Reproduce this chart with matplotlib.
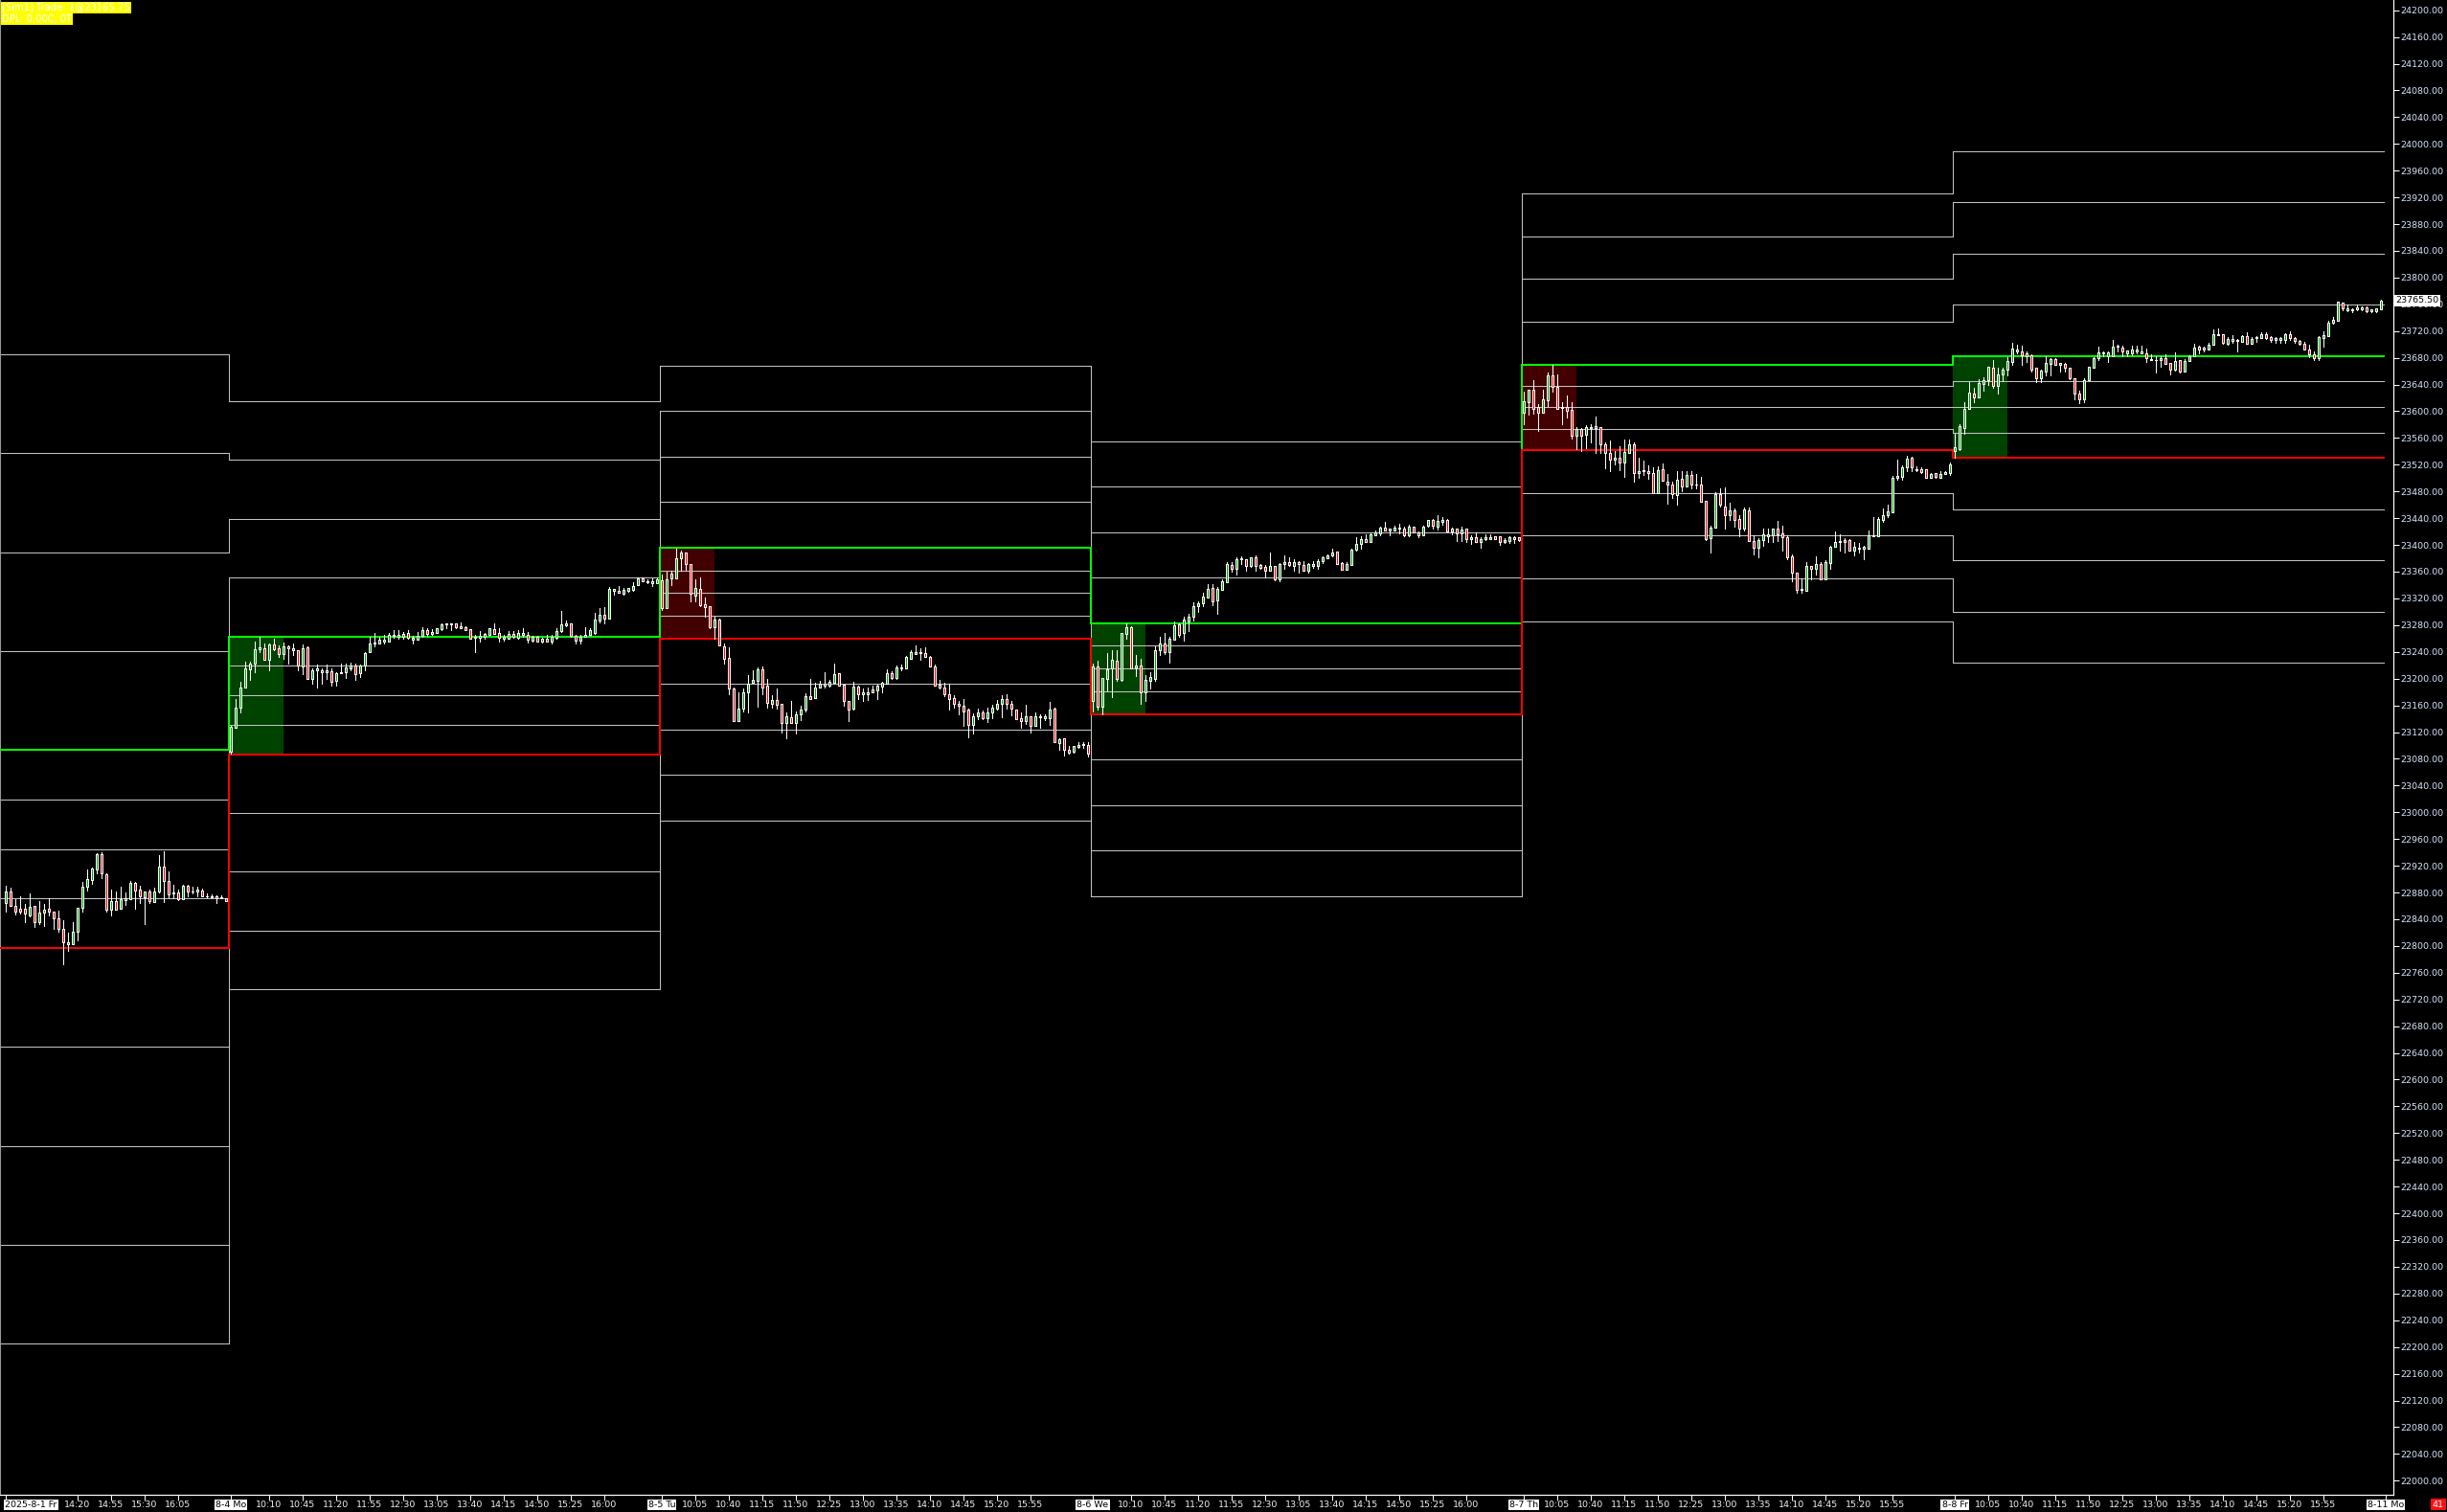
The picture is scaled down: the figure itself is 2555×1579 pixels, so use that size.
import matplotlib
matplotlib.use('Agg')
import matplotlib.pyplot as plt
from matplotlib.patches import Rectangle
from matplotlib.collections import LineCollection, PatchCollection
import matplotlib.transforms as mtransforms
import numpy as np

# ---------------- data ----------------
day_labels = ["2025-8-1 Fr", "8-4 Mo", "8-5 Tu", "8-6 We", "8-7 Th", "8-8 Fr", "8-11 Mo"]
day_start_bars = [0, 47, 137, 227, 317, 407, 497]

# candles [open, high, low, close] per session
ohlc_0801 = [
[22865,22890,22852,22882],[22882,22887,22860,22860],[22860,22870,22847,22852],[22856,22874,22849,22852],
[22855,22863,22835,22848],[22846,22879,22844,22858],[22860,22860,22829,22835],[22836,22867,22833,22850],
[22850,22863,22830,22854],[22855,22871,22846,22851],[22851,22851,22825,22842],[22841,22853,22822,22825],
[22826,22839,22773,22805],[22802,22820,22792,22805],[22802,22836,22802,22822],[22822,22857,22808,22857],
[22857,22896,22852,22888],[22888,22915,22883,22900],[22898,22917,22893,22916],[22915,22939,22909,22937],
[22937,22940,22901,22908],[22907,22909,22852,22854],[22854,22884,22846,22867],[22867,22882,22854,22854],
[22855,22888,22855,22870],[22869,22880,22861,22871],[22870,22897,22870,22894],[22894,22896,22856,22883],
[22884,22890,22865,22874],[22873,22882,22833,22882],[22882,22884,22865,22867],[22866,22887,22866,22882],
[22882,22936,22880,22919],[22919,22942,22866,22897],[22897,22912,22873,22877],[22880,22891,22872,22878],
[22880,22884,22869,22870],[22870,22891,22870,22890],[22890,22891,22875,22881],[22881,22888,22879,22882],
[22881,22888,22875,22884],[22883,22886,22874,22875],[22875,22878,22873,22874],[22875,22877,22873,22873],
[22874,22876,22865,22872],[22873,22876,22871,22872],[22871,22871,22867,22867]]

ohlc_0804 = [
[23091,23130,23088,23128],[23127,23170,23126,23156],[23156,23195,23149,23186],[23187,23225,23187,23215],
[23214,23225,23198,23223],[23223,23255,23210,23244],[23244,23263,23239,23247],[23246,23253,23228,23228],
[23228,23252,23213,23251],[23251,23259,23243,23244],[23245,23250,23232,23237],[23237,23254,23229,23248],
[23248,23250,23222,23245],[23246,23252,23236,23242],[23243,23243,23213,23219],[23218,23251,23206,23246],
[23247,23248,23199,23200],[23200,23215,23193,23212],[23212,23221,23186,23215],[23213,23215,23193,23210],
[23210,23221,23199,23212],[23211,23215,23189,23195],[23197,23210,23190,23208],[23208,23222,23208,23210],
[23209,23222,23201,23217],[23216,23224,23212,23219],[23219,23223,23198,23207],[23208,23221,23202,23219],
[23219,23240,23213,23238],[23239,23262,23239,23252],[23252,23268,23248,23254],[23253,23262,23252,23258],
[23255,23265,23253,23258],[23256,23268,23256,23265],[23264,23272,23261,23266],[23265,23273,23260,23262],
[23262,23270,23260,23267],[23268,23272,23260,23261],[23258,23264,23252,23261],[23258,23270,23258,23264],
[23264,23277,23263,23273],[23273,23276,23264,23267],[23267,23274,23265,23270],[23269,23276,23268,23275],
[23274,23283,23272,23281],[23281,23283,23275,23282],[23281,23283,23272,23283],[23282,23283,23276,23277],
[23276,23284,23275,23278],[23277,23279,23272,23273],[23274,23274,23259,23259],[23261,23266,23240,23263],
[23261,23271,23255,23264],[23262,23268,23260,23267],[23266,23276,23265,23275],[23274,23283,23267,23267],
[23268,23276,23256,23261],[23260,23265,23257,23262],[23260,23271,23260,23267],[23267,23271,23261,23263],
[23261,23273,23260,23268],[23266,23275,23262,23268],[23266,23270,23254,23258],[23257,23264,23255,23263],
[23262,23264,23255,23255],[23256,23261,23254,23260],[23260,23266,23256,23256],[23255,23266,23253,23262],
[23261,23275,23260,23271],[23271,23301,23270,23281],[23280,23287,23279,23283],[23283,23283,23263,23264],
[23264,23266,23252,23257],[23257,23266,23252,23263],[23262,23277,23262,23266],[23266,23275,23265,23272],
[23269,23298,23267,23288],[23287,23306,23284,23296],[23295,23307,23283,23290],[23290,23337,23290,23334],
[23332,23334,23326,23334],[23332,23339,23328,23328],[23327,23335,23325,23333],[23331,23336,23330,23335],
[23333,23344,23332,23339],[23340,23352,23340,23350],[23350,23351,23345,23345],[23344,23348,23343,23346],
[23343,23350,23338,23346],[23343,23352,23343,23349]]

ohlc_0805 = [
[23347,23356,23302,23306],[23306,23360,23306,23348],[23350,23361,23340,23357],[23350,23395,23350,23380],
[23380,23391,23361,23389],[23388,23388,23363,23372],[23372,23372,23315,23327],[23324,23349,23315,23335],
[23334,23351,23309,23310],[23311,23322,23292,23307],[23308,23308,23276,23277],[23277,23292,23260,23288],
[23288,23290,23249,23249],[23248,23253,23223,23230],[23231,23247,23176,23185],[23185,23186,23137,23137],
[23137,23179,23137,23155],[23155,23185,23151,23180],[23179,23205,23150,23193],[23194,23212,23194,23198],
[23197,23217,23158,23214],[23214,23218,23176,23187],[23190,23200,23156,23164],[23162,23175,23156,23168],
[23168,23185,23155,23161],[23162,23162,23120,23133],[23133,23149,23111,23143],[23142,23167,23134,23134],
[23134,23151,23118,23147],[23146,23160,23138,23153],[23153,23178,23151,23174],[23174,23200,23170,23170],
[23171,23194,23171,23186],[23187,23197,23186,23193],[23193,23209,23187,23189],[23189,23198,23188,23195],
[23194,23223,23194,23207],[23208,23208,23189,23190],[23191,23191,23159,23167],[23166,23166,23136,23154],
[23155,23195,23153,23188],[23188,23190,23170,23177],[23176,23185,23166,23179],[23176,23186,23168,23180],
[23184,23190,23179,23180],[23183,23191,23169,23189],[23188,23195,23180,23194],[23192,23214,23192,23208],
[23208,23211,23200,23201],[23201,23220,23200,23217],[23215,23221,23212,23217],[23215,23234,23215,23232],
[23230,23242,23230,23239],[23237,23250,23237,23239],[23240,23246,23228,23238],[23238,23247,23233,23233],
[23233,23234,23218,23218],[23218,23221,23190,23190],[23191,23198,23185,23186],[23186,23194,23174,23176],
[23177,23193,23153,23170],[23171,23175,23156,23163],[23163,23167,23146,23160],[23160,23170,23130,23151],
[23153,23155,23112,23131],[23131,23148,23118,23144],[23144,23155,23139,23149],[23150,23152,23139,23141],
[23141,23156,23135,23150],[23150,23161,23141,23157],[23155,23168,23154,23162],[23162,23175,23142,23169],
[23169,23177,23155,23162],[23163,23167,23145,23155],[23154,23154,23140,23140],[23141,23150,23127,23136],
[23136,23161,23132,23144],[23144,23144,23119,23130],[23130,23150,23129,23144],[23142,23146,23126,23144],
[23141,23147,23138,23144],[23141,23165,23131,23154],[23155,23156,23105,23105],[23104,23110,23094,23109],
[23110,23110,23085,23093],[23093,23099,23088,23089],[23090,23099,23089,23099],[23098,23105,23096,23101],
[23100,23105,23096,23102],[23100,23105,23083,23088]]

ohlc_0806 = [
[23166,23222,23151,23218],[23218,23227,23153,23158],[23158,23201,23147,23201],[23200,23238,23182,23214],
[23215,23243,23173,23228],[23227,23243,23196,23199],[23198,23268,23196,23268],[23267,23283,23260,23277],
[23277,23278,23216,23216],[23217,23235,23204,23220],[23220,23229,23162,23179],[23179,23205,23166,23198],
[23197,23210,23185,23202],[23200,23248,23196,23243],[23242,23262,23235,23253],[23253,23268,23237,23240],
[23240,23262,23224,23259],[23258,23286,23258,23280],[23281,23283,23263,23266],[23268,23293,23257,23288],
[23286,23297,23271,23293],[23292,23314,23287,23308],[23309,23315,23300,23313],[23313,23329,23309,23323],
[23322,23342,23322,23334],[23335,23342,23310,23316],[23317,23337,23297,23334],[23333,23349,23333,23345],
[23344,23375,23344,23371],[23370,23375,23360,23365],[23365,23382,23356,23378],[23378,23383,23372,23380],
[23378,23378,23361,23368],[23368,23382,23367,23381],[23381,23384,23361,23369],[23370,23371,23364,23366],
[23367,23370,23352,23361],[23361,23389,23361,23368],[23369,23369,23347,23349],[23349,23373,23345,23371],
[23371,23384,23365,23374],[23374,23382,23368,23370],[23368,23378,23361,23374],[23374,23376,23358,23371],
[23370,23376,23361,23362],[23362,23373,23358,23371],[23368,23376,23366,23371],[23368,23378,23364,23376],
[23376,23383,23373,23381],[23380,23386,23380,23385],[23384,23394,23383,23389],[23390,23390,23371,23372],
[23373,23375,23363,23363],[23363,23374,23363,23371],[23370,23395,23370,23393],[23393,23412,23392,23402],
[23401,23413,23395,23409],[23409,23416,23405,23405],[23405,23417,23405,23416],[23415,23421,23414,23419],
[23418,23428,23414,23426],[23426,23435,23422,23422],[23421,23425,23414,23424],[23422,23429,23421,23426],
[23424,23431,23418,23426],[23425,23427,23413,23414],[23414,23430,23413,23427],[23427,23428,23419,23419],
[23419,23420,23411,23415],[23415,23429,23415,23428],[23429,23438,23427,23437],[23438,23439,23425,23429],
[23428,23444,23423,23436],[23435,23441,23430,23438],[23438,23439,23420,23420],[23420,23426,23416,23425],
[23424,23425,23406,23418],[23418,23427,23406,23423],[23424,23425,23405,23408],[23408,23414,23402,23412],
[23411,23419,23404,23404],[23404,23412,23396,23409],[23408,23416,23407,23411],[23409,23416,23408,23412],
[23413,23413,23408,23409],[23413,23413,23400,23404],[23404,23410,23403,23407],[23406,23413,23403,23411],
[23408,23413,23403,23411],[23411,23412,23406,23407]]

ohlc_0807 = [
[23598,23630,23581,23615],[23613,23632,23595,23632],[23632,23647,23596,23604],[23606,23610,23570,23598],
[23598,23632,23598,23618],[23616,23658,23608,23653],[23653,23669,23629,23637],[23637,23655,23603,23604],
[23605,23614,23580,23607],[23606,23624,23590,23600],[23602,23614,23559,23563],[23563,23576,23543,23573],
[23573,23575,23541,23564],[23565,23579,23545,23576],[23575,23581,23554,23577],[23578,23592,23537,23575],
[23576,23577,23537,23550],[23550,23554,23515,23537],[23537,23556,23511,23527],[23527,23540,23521,23531],
[23530,23548,23512,23523],[23523,23557,23502,23539],[23537,23557,23537,23550],[23550,23553,23495,23507],
[23508,23531,23500,23511],[23511,23526,23505,23512],[23511,23519,23499,23507],[23507,23516,23478,23478],
[23478,23517,23478,23512],[23513,23522,23496,23496],[23495,23506,23461,23490],[23490,23494,23471,23476],
[23474,23511,23460,23497],[23499,23511,23480,23487],[23487,23511,23487,23505],[23505,23511,23485,23491],
[23490,23506,23484,23491],[23491,23502,23464,23465],[23466,23466,23407,23409],[23410,23429,23389,23426],
[23426,23479,23426,23476],[23476,23485,23457,23460],[23458,23486,23425,23444],[23444,23463,23437,23451],
[23452,23454,23427,23438],[23439,23444,23413,23424],[23424,23456,23422,23453],[23452,23456,23406,23406],
[23406,23415,23386,23396],[23396,23410,23381,23407],[23407,23425,23399,23416],[23413,23425,23404,23416],
[23414,23425,23404,23424],[23424,23436,23406,23416],[23417,23429,23392,23412],[23412,23415,23379,23382],
[23383,23386,23345,23358],[23358,23358,23329,23333],[23333,23350,23328,23334],[23332,23374,23331,23368],
[23369,23369,23349,23365],[23364,23383,23356,23371],[23371,23375,23348,23348],[23348,23377,23348,23374],
[23373,23399,23365,23397],[23397,23420,23397,23404],[23404,23416,23392,23406],[23407,23410,23389,23405],
[23407,23408,23392,23392],[23392,23405,23384,23397],[23395,23403,23388,23396],[23395,23398,23379,23397],
[23394,23422,23394,23414],[23413,23442,23413,23414],[23413,23442,23413,23439],[23437,23454,23435,23444],
[23445,23460,23441,23450],[23449,23503,23449,23500],[23500,23527,23498,23503],[23502,23519,23498,23516],
[23516,23533,23511,23529],[23530,23532,23511,23516],[23512,23518,23510,23514],[23514,23516,23508,23509],
[23513,23513,23500,23500],[23501,23508,23501,23506],[23508,23508,23501,23502],[23501,23511,23501,23506],
[23506,23510,23506,23509],[23507,23524,23505,23520]]

ohlc_0808 = [
[23540,23567,23530,23546],[23543,23580,23542,23578],[23575,23614,23567,23603],[23603,23644,23603,23628],
[23626,23635,23613,23621],[23621,23648,23621,23642],[23641,23651,23631,23647],[23647,23666,23639,23666],
[23665,23677,23635,23638],[23638,23665,23626,23655],[23655,23665,23645,23662],[23662,23681,23654,23675],
[23674,23702,23670,23694],[23690,23699,23687,23692],[23690,23698,23670,23684],[23686,23690,23674,23683],
[23684,23685,23659,23663],[23665,23665,23644,23650],[23649,23662,23644,23661],[23660,23683,23654,23673],
[23671,23679,23654,23678],[23678,23679,23669,23669],[23669,23673,23660,23672],[23671,23673,23659,23665],
[23665,23665,23648,23650],[23649,23650,23618,23627],[23627,23631,23612,23618],[23618,23650,23613,23647],
[23646,23667,23646,23666],[23665,23681,23665,23679],[23679,23696,23677,23688],[23686,23690,23683,23688],
[23683,23690,23674,23688],[23683,23707,23683,23697],[23696,23700,23690,23698],[23695,23698,23683,23690],
[23687,23691,23683,23691],[23687,23698,23684,23692],[23690,23698,23686,23692],[23690,23698,23686,23686],
[23686,23694,23674,23679],[23677,23685,23676,23678],[23676,23683,23658,23677],[23676,23683,23666,23679],
[23679,23685,23671,23671],[23672,23672,23655,23663],[23663,23688,23661,23675],[23676,23677,23658,23659],
[23660,23678,23659,23675],[23675,23684,23675,23682],[23682,23701,23682,23695],[23696,23698,23686,23692],
[23692,23697,23689,23695],[23693,23702,23692,23700],[23699,23722,23699,23715],[23714,23724,23714,23715],
[23715,23715,23701,23703],[23701,23711,23700,23708],[23708,23714,23702,23705],[23705,23708,23690,23706],
[23704,23714,23704,23713],[23713,23718,23701,23701],[23701,23711,23701,23708],[23709,23713,23704,23711],
[23709,23718,23709,23716],[23716,23718,23708,23709],[23711,23712,23704,23706],[23707,23711,23703,23709],
[23707,23711,23703,23709],[23707,23717,23703,23716],[23716,23720,23707,23709],[23710,23711,23703,23705],
[23705,23707,23699,23701],[23701,23704,23692,23693],[23693,23700,23681,23685],[23685,23689,23677,23680],
[23680,23712,23677,23711],[23710,23720,23697,23714],[23713,23735,23713,23732],[23732,23741,23731,23737],
[23736,23764,23736,23764],[23762,23763,23751,23754],[23751,23759,23750,23754],[23751,23754,23748,23753],
[23752,23759,23751,23755],[23753,23757,23751,23755],[23755,23757,23748,23749],[23749,23753,23748,23752],
[23749,23754,23748,23754],[23752,23767,23752,23765.5]]

sessions = [ohlc_0801, ohlc_0804, ohlc_0805, ohlc_0806, ohlc_0807, ohlc_0808]

# opening-range levels per session, top to bottom (index 4 = OR high, index 8 = OR low)
levels_0801 = [23685, 23537, 23389, 23241, 23093, 23019, 22945, 22871, 22797, 22649, 22501, 22353, 22205]
levels_0804 = [23615, 23527, 23439, 23351, 23263, 23219, 23175, 23131, 23087, 22999, 22911, 22823, 22735]
levels_0805 = [23668, 23600, 23532, 23464, 23396, 23362, 23328, 23294, 23260, 23192, 23124, 23056, 22988]
levels_0806 = [23555, 23487, 23419, 23351, 23283, 23249, 23215, 23181, 23147, 23079, 23011, 22943, 22875]
levels_0807 = [23926, 23862, 23798, 23734, 23670, 23638, 23606, 23574, 23542, 23478, 23414, 23350, 23286]
levels_0808 = [23989, 23912.5, 23836, 23759.5, 23683, 23645, 23606.5, 23568, 23530, 23453.5, 23377, 23300.5, 23224]
session_levels = [levels_0801, levels_0804, levels_0805, levels_0806, levels_0807, levels_0808]

# opening range box direction (sessions 8-4 .. 8-8)
or_box_up = [True, False, True, False, True]

time_tick_bars = [15, 22, 29, 36,
                  55, 62, 69, 76, 83, 90, 97, 104, 111, 118, 125,
                  144, 151, 158, 165, 172, 179, 186, 193, 200, 207, 214,
                  235, 242, 249, 256, 263, 270, 277, 284, 291, 298, 305,
                  324, 331, 338, 345, 352, 359, 366, 373, 380, 387, 394,
                  414, 421, 428, 435, 442, 449, 456, 463, 470, 477, 484]
time_tick_labels = ["14:20", "14:55", "15:30", "16:05",
                    "10:10", "10:45", "11:20", "11:55", "12:30", "13:05", "13:40", "14:15", "14:50", "15:25", "16:00",
                    "10:05", "10:40", "11:15", "11:50", "12:25", "13:00", "13:35", "14:10", "14:45", "15:20", "15:55",
                    "10:10", "10:45", "11:20", "11:55", "12:30", "13:05", "13:40", "14:15", "14:50", "15:25", "16:00",
                    "10:05", "10:40", "11:15", "11:50", "12:25", "13:00", "13:35", "14:10", "14:45", "15:20", "15:55",
                    "10:05", "10:40", "11:15", "11:50", "12:25", "13:00", "13:35", "14:10", "14:45", "15:20", "15:55"]

price_ticks = list(range(22000, 24201, 40))
last_price = 23765.50
header_lines = ["[Sim1] Trade: 1@23165.75", "DPL: 0.00C, 0T"]

# ---------------- figure ----------------
W, H, DPI = 2555, 1579, 100
fig = plt.figure(figsize=(W / DPI, H / DPI), dpi=DPI, facecolor='black')
ax_left_px, ax_right_px, ax_top_px, ax_bot_px = 0, 2499, 0, 1561
ax = fig.add_axes([ax_left_px / W, (H - ax_bot_px) / H,
                   (ax_right_px - ax_left_px) / W, (ax_bot_px - ax_top_px) / H])
ax.set_facecolor('black')
ax.set_xlim(-1.2, 498.6)
ax.set_ylim(21978.9, 24215.3)

PX = 72.0 / DPI  # one pixel in points

# ---- opening range boxes ----
for d in range(1, 6):
    lv = session_levels[d]
    hi, lo = lv[4], lv[8]
    s = day_start_bars[d]
    col = '#004200' if or_box_up[d - 1] else '#420000'
    ax.add_patch(Rectangle((s - 0.4, lo), 11.4, hi - lo, facecolor=col,
                           edgecolor='none', zorder=1))

# ---- level step lines ----
bounds = [-3] + [s - 0.45 for s in day_start_bars[1:6]] + [496.6]
for k in range(13):
    xs, ys = [], []
    for d in range(6):
        xs += [bounds[d], bounds[d + 1]]
        ys += [session_levels[d][k], session_levels[d][k]]
    if k == 4:
        col, lw = '#00ff00', 2 * PX
    elif k == 8:
        col, lw = '#ff0000', 2 * PX
    else:
        col, lw = '#c4c4c4', 1 * PX
    ax.plot(xs, ys, color=col, lw=lw, zorder=2 + (k in (4, 8)),
            antialiased=False, solid_joinstyle='miter')

# ---- candles ----
wicks, bodies, fcols = [], [], []
bw = 0.5
for d, sess in enumerate(sessions):
    for j, (o, h, l, c) in enumerate(sess):
        x = day_start_bars[d] + j
        wicks.append([(x, l), (x, h)])
        bot = min(o, c)
        ht = max(abs(c - o), 0.6)
        bodies.append(Rectangle((x - bw / 2, bot), bw, ht))
        fcols.append('#00a000' if c >= o else '#ff0000')
ax.add_collection(LineCollection(wicks, colors='white', linewidths=1 * PX,
                                 zorder=5, antialiaseds=False))
ax.add_collection(PatchCollection(bodies, facecolors=fcols, edgecolors='white',
                                  linewidths=1 * PX, zorder=6, antialiaseds=False))

# ---- axes styling ----
for sp in ('top',):
    ax.spines[sp].set_visible(False)
ax.spines['left'].set_color('#9a9a9a')
ax.spines['left'].set_linewidth(1 * PX)
ax.spines['right'].set_color('white')
ax.spines['right'].set_linewidth(1.2 * PX)
ax.spines['bottom'].set_color('white')
ax.spines['bottom'].set_linewidth(1.2 * PX)

ax.yaxis.tick_right()
ax.set_yticks(price_ticks)
ax.set_yticklabels([f"{v:.2f}" for v in price_ticks])
ax.tick_params(axis='y', colors='white', length=4, width=1 * PX, pad=1.5,
               labelsize=6.8, labelcolor='#d6e6ff')
ax.tick_params(axis='y', which='both', left=False)

all_xticks = day_start_bars + time_tick_bars
ax.set_xticks(all_xticks)
ax.set_xticklabels([''] * len(all_xticks))
ax.tick_params(axis='x', colors='white', length=4, width=1 * PX, direction='out')

trans = mtransforms.blended_transform_factory(ax.transData, ax.transAxes)
yl = -10.5 / (ax_bot_px - ax_top_px)
for b, t in zip(time_tick_bars, time_tick_labels):
    ax.text(b, yl, t, transform=trans, ha='center', va='center', color='#f0f0f0',
            fontsize=6.8, clip_on=False)
for i, (b, t) in enumerate(zip(day_start_bars, day_labels)):
    ha = 'left' if i == 0 else 'center'
    xx = b - 0.2 if i == 0 else b
    ax.text(xx, yl, t, transform=trans, ha=ha, va='center', color='black',
            fontsize=6.8, clip_on=False,
            bbox=dict(boxstyle='square,pad=0.12', fc='white', ec='none'))

# last price marker
trans2 = mtransforms.blended_transform_factory(ax.transAxes, ax.transData)
ax.text(1.0 + 2.5 / (ax_right_px - ax_left_px), last_price, f"{last_price:.2f}",
        transform=trans2, ha='left', va='center', color='black', fontsize=6.8,
        clip_on=False, zorder=10,
        bbox=dict(boxstyle='square,pad=0.12', fc='white', ec='none'))

# bottom-right counter
fig.text(2546 / W, 1 - 1571 / H, "41", ha='center', va='center', color='white',
         fontsize=6.8, bbox=dict(boxstyle='square,pad=0.2', fc='#ff1010', ec='none'))

# header boxes (top-left)
fig.text(2 / W, 1 - 7.5 / H, header_lines[0], ha='left', va='center', color='white',
         fontsize=7.2, bbox=dict(boxstyle='square,pad=0.1', fc='#ffff00', ec='none'))
fig.text(2 / W, 1 - 19.5 / H, header_lines[1], ha='left', va='center', color='white',
         fontsize=7.2, bbox=dict(boxstyle='square,pad=0.1', fc='#ffff00', ec='none'))

fig.savefig('out.png', dpi=DPI, facecolor='black')
